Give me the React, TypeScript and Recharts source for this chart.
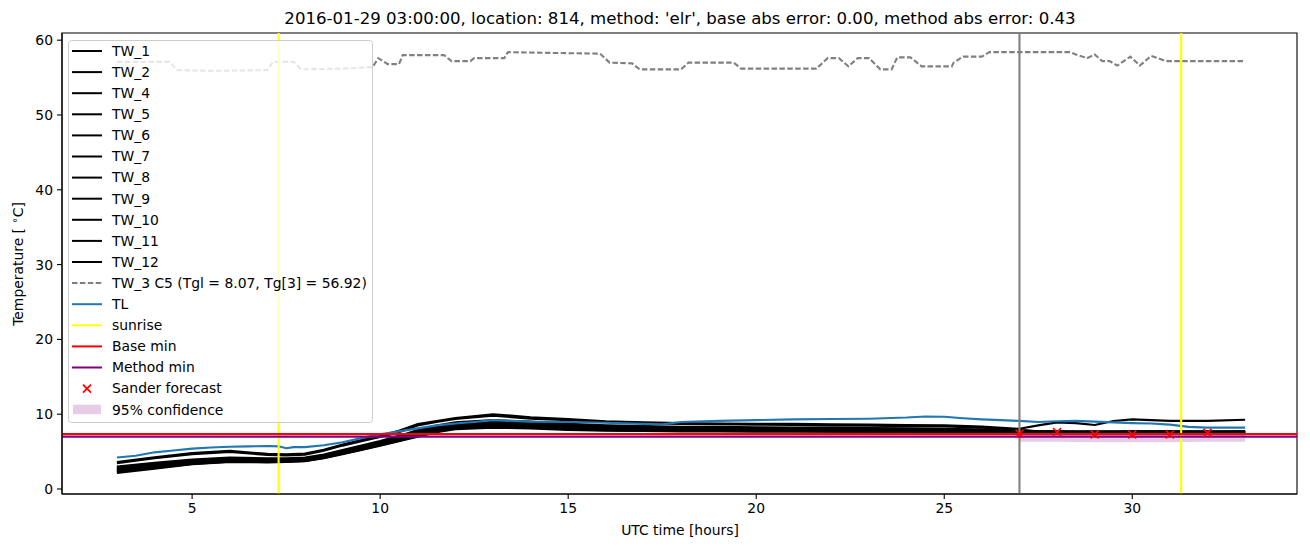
import React from 'react';
import {
  ComposedChart,
  Line,
  Area,
  Scatter,
  XAxis,
  YAxis,
  ReferenceLine,
  ReferenceArea,
  Legend,
  Customized,
} from 'recharts';

// hours since 2016-01-29 00:00 UTC
const TW_TIME = [3, 4, 5, 6, 7, 7.5, 8, 8.5, 9, 9.5, 10, 10.5, 11, 11.5, 12, 13, 14, 15, 16, 17, 18, 19, 20, 21, 22, 23, 24, 25, 26, 27, 27.5, 28, 28.5, 29, 29.5, 30, 31, 32, 33];

const TW_NAMES = ['TW_1', 'TW_2', 'TW_4', 'TW_5', 'TW_6', 'TW_7', 'TW_8', 'TW_9', 'TW_10', 'TW_11', 'TW_12'];

const TW_1 = [3.6, 4.25, 4.8, 5.1, 4.7, 4.65, 4.75, 5.25, 5.95, 6.55, 7.1, 7.8, 8.7, 9.1, 9.5, 10.0, 9.6, 9.35, 9.05, 8.9, 8.8, 8.75, 8.7, 8.7, 8.65, 8.6, 8.55, 8.5, 8.35, 8.05, 8.5, 8.9, 8.8, 8.55, 9.1, 9.3, 9.1, 9.1, 9.25];
const TW_2 = [3.45, 4.1, 4.65, 4.95, 4.55, 4.5, 4.6, 5.1, 5.8, 6.4, 6.95, 7.6, 8.5, 8.95, 9.35, 9.8, 9.4, 9.2, 8.95, 8.8, 8.7, 8.65, 8.6, 8.55, 8.5, 8.45, 8.4, 8.35, 8.2, 7.9, 7.7, 7.7, 7.65, 7.65, 7.65, 7.7, 7.7, 7.65, 7.7];
const TW_4 = [3.0, 3.5, 3.95, 4.2, 4.1, 4.1, 4.2, 4.6, 5.2, 5.8, 6.4, 7.1, 7.9, 8.5, 8.9, 9.2, 9.0, 8.7, 8.5, 8.4, 8.3, 8.3, 8.25, 8.2, 8.2, 8.15, 8.1, 8.05, 7.95, 7.8, 7.7, 7.7, 7.7, 7.7, 7.7, 7.7, 7.7, 7.7, 7.7];
const TW_5 = [2.9, 3.4, 3.85, 4.1, 4.0, 4.0, 4.1, 4.5, 5.1, 5.7, 6.3, 7.0, 7.8, 8.4, 8.8, 9.1, 8.9, 8.6, 8.4, 8.3, 8.2, 8.2, 8.15, 8.1, 8.1, 8.05, 8.0, 7.95, 7.9, 7.75, 7.65, 7.65, 7.65, 7.65, 7.65, 7.65, 7.65, 7.65, 7.65];
const TW_6 = [2.8, 3.3, 3.75, 4.0, 3.9, 3.95, 4.0, 4.45, 5.0, 5.6, 6.2, 6.9, 7.7, 8.3, 8.7, 9.0, 8.8, 8.5, 8.3, 8.2, 8.1, 8.1, 8.05, 8.05, 8.0, 8.0, 7.95, 7.9, 7.85, 7.7, 7.65, 7.6, 7.6, 7.6, 7.6, 7.6, 7.6, 7.6, 7.6];
const TW_7 = [2.65, 3.2, 3.65, 3.9, 3.85, 3.85, 3.95, 4.35, 4.95, 5.5, 6.1, 6.8, 7.5, 8.1, 8.5, 8.8, 8.6, 8.3, 8.1, 8.0, 8.0, 7.95, 7.95, 7.9, 7.9, 7.85, 7.85, 7.8, 7.75, 7.7, 7.6, 7.6, 7.6, 7.6, 7.6, 7.6, 7.6, 7.6, 7.6];
const TW_8 = [2.55, 3.1, 3.55, 3.8, 3.75, 3.8, 3.9, 4.3, 4.85, 5.45, 6.0, 6.7, 7.4, 8.0, 8.4, 8.7, 8.5, 8.2, 8.0, 7.95, 7.9, 7.9, 7.85, 7.85, 7.8, 7.8, 7.8, 7.75, 7.7, 7.65, 7.6, 7.6, 7.6, 7.6, 7.6, 7.6, 7.6, 7.6, 7.6];
const TW_9 = [2.45, 3.0, 3.45, 3.75, 3.7, 3.75, 3.85, 4.25, 4.8, 5.4, 5.95, 6.6, 7.3, 7.9, 8.3, 8.6, 8.4, 8.1, 7.95, 7.9, 7.85, 7.85, 7.8, 7.8, 7.8, 7.75, 7.75, 7.7, 7.7, 7.65, 7.6, 7.6, 7.6, 7.6, 7.6, 7.6, 7.6, 7.6, 7.6];
const TW_10 = [2.35, 2.9, 3.4, 3.7, 3.65, 3.7, 3.8, 4.2, 4.75, 5.3, 5.9, 6.5, 7.2, 7.8, 8.2, 8.4, 8.3, 8.0, 7.9, 7.85, 7.8, 7.8, 7.75, 7.75, 7.75, 7.7, 7.7, 7.7, 7.65, 7.6, 7.6, 7.6, 7.6, 7.6, 7.6, 7.6, 7.6, 7.6, 7.6];
const TW_11 = [2.25, 2.8, 3.35, 3.65, 3.6, 3.65, 3.75, 4.15, 4.7, 5.25, 5.85, 6.45, 7.1, 7.7, 8.1, 8.3, 8.2, 7.95, 7.85, 7.8, 7.75, 7.75, 7.7, 7.7, 7.7, 7.7, 7.7, 7.65, 7.65, 7.6, 7.6, 7.6, 7.6, 7.6, 7.6, 7.6, 7.6, 7.6, 7.6];
const TW_12 = [2.15, 2.7, 3.3, 3.6, 3.55, 3.6, 3.7, 4.1, 4.65, 5.2, 5.8, 6.4, 7.0, 7.6, 8.0, 8.2, 8.1, 7.9, 7.8, 7.75, 7.7, 7.7, 7.7, 7.7, 7.65, 7.65, 7.65, 7.6, 7.6, 7.6, 7.55, 7.55, 7.55, 7.55, 7.55, 7.55, 7.55, 7.55, 7.55];
const TW_VALUES = [TW_1, TW_2, TW_4, TW_5, TW_6, TW_7, TW_8, TW_9, TW_10, TW_11, TW_12];

const TW3_TIME = [3.0, 4.4, 4.6, 5.5, 7.0, 7.15, 7.7, 7.9, 9.0, 9.8, 9.95, 10.2, 10.5, 10.6, 11.7, 11.9, 12.4, 12.5, 13.3, 13.4, 14.5, 15.85, 16.1, 16.7, 16.9, 18.0, 18.2, 19.4, 19.6, 21.6, 21.9, 22.2, 22.45, 22.7, 23.0, 23.3, 23.6, 23.75, 24.1, 24.4, 25.2, 25.25, 25.5, 26.0, 26.2, 28.35, 28.5, 28.8, 29.0, 29.2, 29.4, 29.6, 29.95, 30.2, 30.5, 30.9, 33.0];
const TW3_VALUES = [57.1, 57.1, 56.0, 55.9, 56.0, 57.1, 57.1, 56.1, 56.2, 56.4, 57.6, 56.8, 56.8, 58.0, 58.0, 57.2, 57.2, 57.6, 57.6, 58.4, 58.3, 58.2, 57.0, 56.9, 56.1, 56.1, 57.0, 57.0, 56.2, 56.2, 57.6, 57.6, 56.5, 57.6, 57.6, 56.1, 56.1, 57.7, 57.7, 56.5, 56.5, 57.0, 57.8, 57.8, 58.4, 58.4, 58.1, 57.6, 58.1, 57.2, 57.2, 56.6, 57.8, 56.6, 57.9, 57.2, 57.2];

const TL_TIME = [3.0, 3.5, 4.0, 4.5, 5.0, 5.5, 6.0, 6.5, 7.0, 7.3, 7.5, 7.7, 8.0, 8.5, 9.0, 9.5, 10.0, 10.5, 11.0, 11.5, 12.0, 12.5, 13.0, 13.5, 14.0, 15.0, 16.0, 17.0, 17.5, 18.0, 19.0, 20.0, 21.0, 22.0, 23.0, 24.0, 24.5, 25.0, 25.5, 26.0, 26.5, 27.0, 27.5, 28.0, 28.5, 29.0, 29.5, 30.0, 30.5, 31.0, 31.5, 32.0, 33.0];
const TL_VALUES = [4.2, 4.45, 4.9, 5.15, 5.4, 5.55, 5.65, 5.7, 5.75, 5.7, 5.45, 5.6, 5.6, 5.85, 6.25, 6.8, 7.3, 7.7, 8.1, 8.5, 8.75, 8.95, 9.2, 9.1, 9.0, 8.95, 8.85, 8.7, 8.65, 8.95, 9.1, 9.2, 9.3, 9.35, 9.4, 9.55, 9.7, 9.65, 9.45, 9.3, 9.2, 9.1, 8.95, 9.05, 9.1, 9.0, 8.9, 8.8, 8.75, 8.6, 8.3, 8.2, 8.2];

const SUNRISE = [7.3, 31.3];
const FORECAST_START = 27;
const BASE_MIN = 7.35;
const METHOD_MIN = 7.0;

const SANDER_TIME = [27, 28, 29, 30, 31, 32];
const SANDER_VALUES = [7.4, 7.6, 7.3, 7.3, 7.3, 7.5];

const CONF_TIME = [27, 28, 29, 30, 31, 32, 33];
const CONF_LOW = [6.3, 6.3, 6.25, 6.25, 6.25, 6.3, 6.3];
const CONF_HIGH = [7.5, 7.6, 7.45, 7.45, 7.45, 7.55, 7.55];

const X_TICKS = [5, 10, 15, 20, 25, 30];
const Y_TICKS = [0, 10, 20, 30, 40, 50, 60];
const X_DOMAIN = [1.54, 34.38];
const Y_DOMAIN = [-0.67, 60.96];

const FONT = "'DejaVu Sans', sans-serif";

const zip = (xs: number[], ys: number[]) => xs.map((x, i) => ({ x, y: ys[i] }));

const twData = TW_VALUES.map((vals) => zip(TW_TIME, vals));
const tw3Data = zip(TW3_TIME, TW3_VALUES);
const tlData = zip(TL_TIME, TL_VALUES);
const sanderData = zip(SANDER_TIME, SANDER_VALUES);
const confData = CONF_TIME.map((x, i) => ({ x, range: [CONF_LOW[i], CONF_HIGH[i]] }));

type LegendItem = { label: string; kind: 'line' | 'dash' | 'x' | 'patch'; color: string };
const LEGEND_ITEMS: LegendItem[] = [
  ...TW_NAMES.map((n) => ({ label: n, kind: 'line' as const, color: '#000000' })),
  { label: 'TW_3 C5 (Tgl = 8.07, Tg[3] = 56.92)', kind: 'dash', color: '#808080' },
  { label: 'TL', kind: 'line', color: '#1f77b4' },
  { label: 'sunrise', kind: 'line', color: '#ffff00' },
  { label: 'Base min', kind: 'line', color: '#ff0000' },
  { label: 'Method min', kind: 'line', color: '#800080' },
  { label: 'Sander forecast', kind: 'x', color: '#ff0000' },
  { label: '95% confidence', kind: 'patch', color: '#800080' },
];

const XMark = (props: any) => {
  const { cx, cy } = props;
  if (cx == null || cy == null) return null;
  const r = 4;
  return (
    <g stroke="#ff0000" strokeWidth={1.7}>
      <line x1={cx - r} y1={cy - r} x2={cx + r} y2={cy + r} />
      <line x1={cx - r} y1={cy + r} x2={cx + r} y2={cy - r} />
    </g>
  );
};

const LegendBox = () => (
  <svg width={305} height={383} style={{ display: 'block' }}>
    <rect x={0.5} y={0.5} width={304} height={382} rx={3} fill="rgba(255,255,255,0.8)" stroke="#cccccc" />
    {LEGEND_ITEMS.map((it, i) => {
      const cy = 11 + i * 21.1;
      let handle: React.ReactNode;
      if (it.kind === 'patch') {
        handle = <rect x={5} y={cy - 5} width={28} height={9.5} fill={it.color} fillOpacity={0.2} />;
      } else if (it.kind === 'x') {
        handle = <XMark cx={19} cy={cy} />;
      } else {
        handle = (
          <line x1={4} x2={34} y1={cy} y2={cy} stroke={it.color} strokeWidth={2}
            strokeDasharray={it.kind === 'dash' ? '5.5 2.4' : undefined} />
        );
      }
      return (
        <g key={it.label}>
          {handle}
          <text x={44} y={cy} dy="0.35em" fontSize={13.9} fontFamily={FONT} fill="#000">{it.label}</text>
        </g>
      );
    })}
  </svg>
);

const Texts = () => (
  <g fontFamily={FONT} fill="#000">
    <text x={680} y={18} dy="0.35em" fontSize={16.6} textAnchor="middle">
      2016-01-29 03:00:00, location: 814, method: 'elr', base abs error: 0.00, method abs error: 0.43
    </text>
    <text x={680} y={530} dy="0.35em" fontSize={13.9} textAnchor="middle">UTC time [hours]</text>
    <text transform="translate(18,264) rotate(-90)" dy="0.35em" fontSize={13.9} textAnchor="middle">
      Temperature [ <tspan fontSize={10} dy={-5}>∘</tspan><tspan dy={5}>C]</tspan>
    </text>
  </g>
);

export default function App() {
  return (
    <div style={{ position: 'absolute', left: 0, top: 0, width: 1310, height: 547, background: '#fff' }}>
      <ComposedChart width={1310} height={547} margin={{ top: 33, right: 13, bottom: 0, left: 0 }}>
        <XAxis
          type="number"
          dataKey="x"
          domain={X_DOMAIN}
          ticks={X_TICKS}
          allowDataOverflow
          height={53}
          tickSize={5}
          tickMargin={4}
          axisLine={{ stroke: '#000', strokeWidth: 1.1 }}
          tickLine={{ stroke: '#000', strokeWidth: 1.1 }}
          tick={{ fill: '#000', fontSize: 13.9, fontFamily: FONT }}
        />
        <YAxis
          type="number"
          domain={Y_DOMAIN}
          ticks={Y_TICKS}
          allowDataOverflow
          width={62}
          tickSize={5}
          tickMargin={4}
          axisLine={{ stroke: '#000', strokeWidth: 1.1 }}
          tickLine={{ stroke: '#000', strokeWidth: 1.1 }}
          tick={{ fill: '#000', fontSize: 13.9, fontFamily: FONT }}
        />
        <Area data={confData} dataKey="range" type="linear" stroke="none" fill="#800080" fillOpacity={0.2} isAnimationActive={false} />
        {twData.map((d, i) => (
          <Line key={TW_NAMES[i]} data={d} dataKey="y" type="linear" stroke="#000" strokeWidth={2.1} dot={false} isAnimationActive={false} />
        ))}
        <Line data={tw3Data} dataKey="y" type="linear" stroke="#808080" strokeWidth={2.1} strokeDasharray="5.5 2.4" dot={false} isAnimationActive={false} />
        <Line data={tlData} dataKey="y" type="linear" stroke="#1f77b4" strokeWidth={2.1} dot={false} isAnimationActive={false} />
        {SUNRISE.map((s) => (
          <ReferenceLine key={s} x={s} stroke="#ffff00" strokeWidth={2.1} />
        ))}
        <ReferenceLine x={FORECAST_START} stroke="#808080" strokeWidth={2.1} />
        <ReferenceLine y={BASE_MIN} stroke="#ff0000" strokeWidth={2.1} />
        <ReferenceLine y={METHOD_MIN} stroke="#800080" strokeWidth={2.1} />
        <Scatter data={sanderData} dataKey="y" shape={XMark} isAnimationActive={false} />
        <ReferenceArea x1={X_DOMAIN[0]} x2={X_DOMAIN[1]} y1={Y_DOMAIN[0]} y2={Y_DOMAIN[1]} fill="none" stroke="#000" strokeWidth={1.1} ifOverflow="visible" />
        <Legend
          layout="vertical"
          align="center"
          verticalAlign="middle"
          content={() => <LegendBox />}
          wrapperStyle={{ position: 'absolute', left: 68, top: 40, width: 305, height: 383 }}
        />
        <Customized component={Texts} />
      </ComposedChart>
    </div>
  );
}
